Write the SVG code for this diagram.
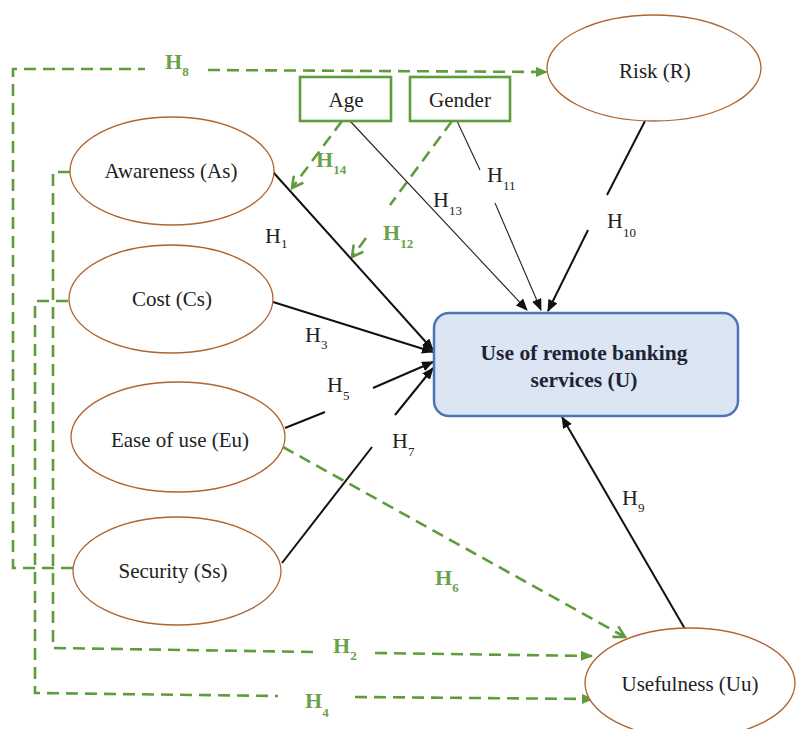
<svg xmlns="http://www.w3.org/2000/svg" width="796" height="729" viewBox="0 0 796 729">
<style>
.ell{fill:#fff;stroke:#b0652f;stroke-width:1.3}
.nt{font-family:"Liberation Serif",serif;font-size:21px;fill:#222;text-anchor:middle}
.bt{font-family:"Liberation Serif",serif;font-size:21.5px;font-weight:bold;fill:#1e2433;text-anchor:middle}
.blk{fill:none;stroke:#111;stroke-width:2}
.thin{fill:none;stroke:#222;stroke-width:1.1}
.gd{fill:none;stroke:#5e9c3c;stroke-width:2.6;stroke-dasharray:12 7}
.h{font-family:"Liberation Serif",serif;font-size:22px;fill:#222}
.hg{font-family:"Liberation Serif",serif;font-size:22px;font-weight:bold;fill:#6aa24a}
.s{font-size:13px}
</style>
<defs>
<marker id="ab" markerUnits="userSpaceOnUse" markerWidth="12" markerHeight="10" refX="11" refY="5" orient="auto"><path d="M0,0 L12,5 L0,10 Z" fill="#111"/></marker>
<marker id="ag" markerUnits="userSpaceOnUse" markerWidth="12" markerHeight="10" refX="11" refY="5" orient="auto"><path d="M0,0 L12,5 L0,10 Z" fill="#5e9c3c"/></marker>
<marker id="og" markerUnits="userSpaceOnUse" markerWidth="14" markerHeight="14" refX="12" refY="7" orient="auto"><path d="M1,1 L12,7 L1,13" fill="none" stroke="#5e9c3c" stroke-width="2.6"/></marker>
</defs>
<rect width="796" height="729" fill="#fff"/>
<g id="connectors">
<path class="gd" d="M73,568 H13 V69 H145"/>
<path class="gd" d="M208,70 L547,72" marker-end="url(#ag)"/>
<path class="gd" d="M70,172 H53 V648 L315,652"/>
<path class="gd" d="M375,653 L592,656" marker-end="url(#ag)"/>
<path class="gd" d="M68,301 H35 V693 L278,696"/>
<path class="gd" d="M355,697 L593,699" marker-end="url(#ag)"/>
<path class="gd" d="M283,447 L625,637" marker-end="url(#og)"/>
<path class="gd" d="M342,121 L292,188" marker-end="url(#og)"/>
<path class="gd" d="M452,121 L390,205"/>
<path class="gd" d="M366,238 L352,257" marker-end="url(#og)"/>
<path class="thin" d="M350,121 L527,310" marker-end="url(#ab)"/>
<path class="thin" d="M457,121 L480,170"/>
<path class="thin" d="M495,203 L541,310" marker-end="url(#ab)"/>
<path class="blk" d="M645,121 L607,195"/>
<path class="blk" d="M588,230 L548,311" marker-end="url(#ab)"/>
<path class="blk" d="M273,172 L433,350" marker-end="url(#ab)"/>
<path class="blk" d="M273,302 L433,352" marker-end="url(#ab)"/>
<path class="blk" d="M285,428 L325,412"/>
<path class="blk" d="M373,388 L433,362" marker-end="url(#ab)"/>
<path class="blk" d="M282,563 L372,447"/>
<path class="blk" d="M395,415 L433,368" marker-end="url(#ab)"/>
<path class="blk" d="M685,629 L562,417" marker-end="url(#ab)"/>
<text class="hg" x="165" y="69">H<tspan class="s" dy="7">8</tspan></text>
<text class="hg" x="316" y="167">H<tspan class="s" dy="7">14</tspan></text>
<text class="hg" x="383" y="240">H<tspan class="s" dy="8">12</tspan></text>
<text class="hg" x="333" y="653">H<tspan class="s" dy="7">2</tspan></text>
<text class="hg" x="305" y="708">H<tspan class="s" dy="9">4</tspan></text>
<text class="hg" x="435" y="585">H<tspan class="s" dy="7">6</tspan></text>
<text class="h" x="265" y="243">H<tspan class="s" dy="5">1</tspan></text>
<text class="h" x="305" y="342">H<tspan class="s" dy="7">3</tspan></text>
<text class="h" x="327" y="392">H<tspan class="s" dy="8">5</tspan></text>
<text class="h" x="392" y="448">H<tspan class="s" dy="8">7</tspan></text>
<text class="h" x="433" y="207">H<tspan class="s" dy="8">13</tspan></text>
<text class="h" x="487" y="182">H<tspan class="s" dy="8">11</tspan></text>
<text class="h" x="607" y="228">H<tspan class="s" dy="9">10</tspan></text>
<text class="h" x="622" y="505">H<tspan class="s" dy="7">9</tspan></text>
</g>
<g id="awareness"><ellipse class="ell" cx="172" cy="171" rx="102" ry="54"/><text class="nt" x="171" y="178">Awareness (As)</text></g>
<g id="cost"><ellipse class="ell" cx="171" cy="299" rx="102" ry="54"/><text class="nt" x="172" y="306">Cost (Cs)</text></g>
<g id="easeofuse"><ellipse class="ell" cx="178" cy="437" rx="107" ry="55"/><text class="nt" x="180" y="447">Ease of use (Eu)</text></g>
<g id="security"><ellipse class="ell" cx="177" cy="571" rx="104" ry="54"/><text class="nt" x="173" y="578">Security (Ss)</text></g>
<g id="risk"><ellipse class="ell" cx="654" cy="68" rx="107" ry="53"/><text class="nt" x="655" y="78">Risk (R)</text></g>
<g id="usefulness"><ellipse class="ell" cx="690" cy="683" rx="105" ry="55"/><text class="nt" x="690" y="691">Usefulness (Uu)</text></g>
<g id="age"><rect x="300" y="77" width="91" height="44" fill="#fff" stroke="#5e9c3c" stroke-width="2.6"/><text class="nt" x="346" y="107">Age</text></g>
<g id="gender"><rect x="410" y="77" width="100" height="44" fill="#fff" stroke="#5e9c3c" stroke-width="2.6"/><text class="nt" x="460" y="107">Gender</text></g>
<g id="use"><rect x="434" y="313" width="304" height="103" rx="15" fill="#dbe5f3" stroke="#4e74b8" stroke-width="2.5"/><text class="bt" x="584" y="360">Use of remote banking</text><text class="bt" x="584" y="387">services (U)</text></g>
</svg>
